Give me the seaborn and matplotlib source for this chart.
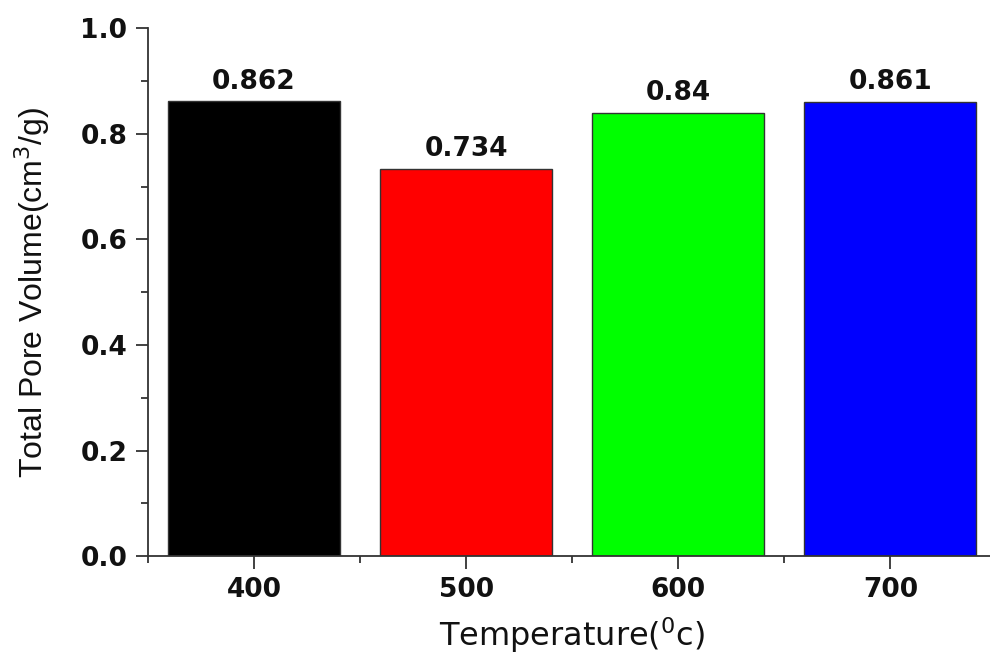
"""Total pore volume vs. activation temperature (bar chart)."""
import matplotlib
matplotlib.use("Agg")
import matplotlib.pyplot as plt
from matplotlib.ticker import MultipleLocator, FixedLocator
import pandas as pd
import seaborn as sns

temperatures = ["400", "500", "600", "700"]
pore_volume = [0.862, 0.734, 0.84, 0.861]
value_labels = ["0.862", "0.734", "0.84", "0.861"]
bar_colors = ["#000000", "#ff0000", "#00ff00", "#0000ff"]
ytick_labels = ["0.0", "0.2", "0.4", "0.6", "0.8", "1.0"]

df = pd.DataFrame({"temp": temperatures, "vol": pore_volume})

sns.set_style("ticks")
plt.rcParams["font.family"] = ["DejaVu Sans"]
plt.rcParams["text.color"] = "#111111"
plt.rcParams["axes.labelcolor"] = "#111111"
plt.rcParams["xtick.labelcolor"] = "#111111"
plt.rcParams["ytick.labelcolor"] = "#111111"

fig = plt.figure(figsize=(9.9, 6.55), dpi=100)
ax = fig.add_axes([0.1495, 0.151, 0.857, 0.806])

sns.barplot(data=df, x="temp", y="vol", hue="temp", palette=bar_colors,
            saturation=1, width=0.81, edgecolor="#333333", linewidth=1.0,
            legend=False, ax=ax)

for i, (v, lab) in enumerate(zip(pore_volume, value_labels)):
    ax.text(i, v + 0.012, lab, ha="center", va="bottom", fontsize=19,
            fontweight="bold", color="#111111")

ax.set_xlim(-0.5, 3.5)
ax.set_ylim(0, 1.0)
ax.set_yticks([0.0, 0.2, 0.4, 0.6, 0.8, 1.0])
ax.set_yticklabels(ytick_labels)
ax.yaxis.set_minor_locator(MultipleLocator(0.1))
ax.xaxis.set_minor_locator(FixedLocator([-0.5, 0.5, 1.5, 2.5, 3.5]))

for s in ["top", "right"]:
    ax.spines[s].set_visible(False)
for s in ["left", "bottom"]:
    ax.spines[s].set_linewidth(1.3)
    ax.spines[s].set_color("#333333")

ax.tick_params(axis="both", which="major", direction="out", length=9,
               width=1.3, color="#333333", labelsize=19, pad=6)
ax.tick_params(axis="both", which="minor", direction="out", length=5,
               width=1.3, color="#333333")
for t in ax.get_xticklabels() + ax.get_yticklabels():
    t.set_fontweight("bold")

ax.set_xlabel("Temperature($^0$c)", fontsize=23, labelpad=9)
ax.set_ylabel("Total Pore Volume(cm$^3$/g)", fontsize=23, labelpad=20,
              family=["Liberation Sans", "DejaVu Sans"])

fig.savefig("out.png", dpi=100)
